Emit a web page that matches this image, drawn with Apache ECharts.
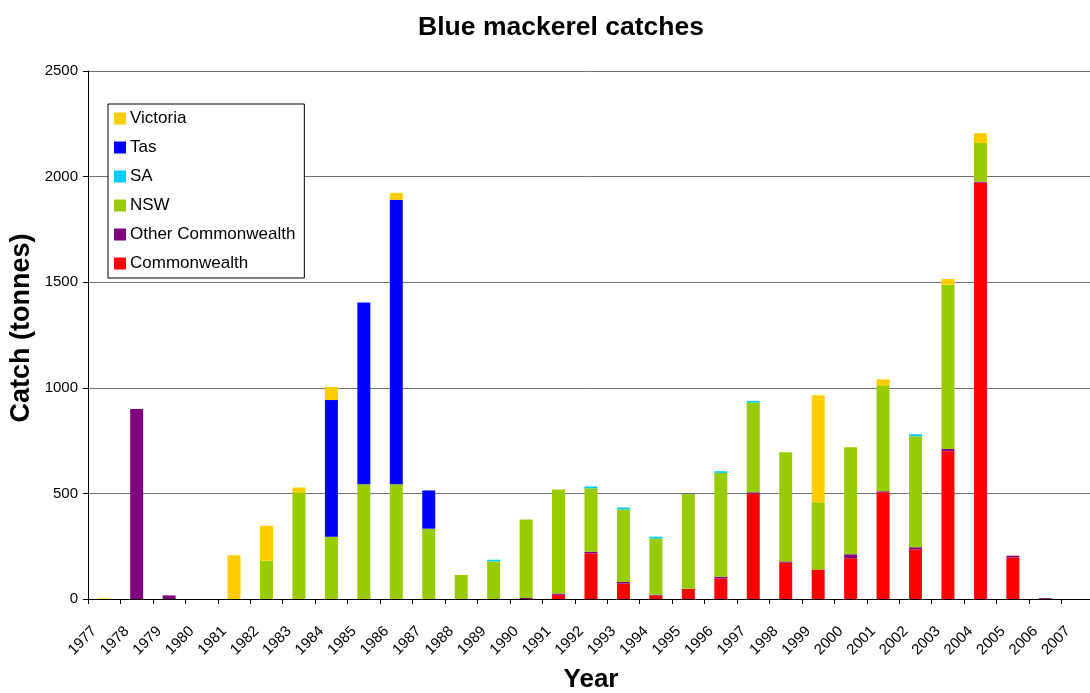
<!DOCTYPE html>
<html>
<head>
<meta charset="utf-8">
<script src="https://cdn.jsdelivr.net/npm/echarts@6/dist/echarts.min.js"></script>
<style>html,body{margin:0;padding:0;background:#fff;}#c{width:1090px;height:693px;}</style>
</head>
<body>
<div id="c"></div>
<script>
const years = ['1977','1978','1979','1980','1981','1982','1983','1984','1985','1986','1987','1988','1989','1990','1991','1992','1993','1994','1995','1996','1997','1998','1999','2000','2001','2002','2003','2004','2005','2006','2007'];
const commonwealth      = [0,0,0,0,0,0,0,0,0,0,0,0,0,0,20,216,73,16,48,97,500,172,140,193,505,235,700,1971,197,0,0];
const otherCommonwealth = [0,900,17,0,0,0,0,0,0,0,0,0,0,5,6,8,8,4,0,8,5,6,0,19,5,10,10,5,8,4,0];
const nsw               = [0,0,0,0,0,181,505,295,543,543,333,114,178,371,493,300,343,266,449,492,425,517,318,506,502,525,778,183,0,0,0];
const sa                = [0,0,0,0,0,0,0,0,0,0,0,0,8,0,0,9,9,9,0,8,8,0,0,0,0,10,0,0,0,0,0];
const tas               = [0,0,0,0,0,0,0,647,861,1347,181,0,0,0,0,0,0,0,0,0,0,0,0,0,0,0,0,0,0,0,0];
const victoria          = [3,0,0,0,207,166,23,62,0,33,0,0,0,0,0,0,0,0,0,0,0,0,507,0,28,0,27,47,0,0,0];
const yTicks = {min: 0, max: 2500, interval: 500};

const font = 'Liberation Sans, Arial, sans-serif';
const chart = echarts.init(document.getElementById('c'));
function s(name, data, color) {
  return {name: name, type: 'bar', stack: 'total', data: data, barWidth: 13,
          itemStyle: {color: color}, emphasis: {disabled: true}};
}
chart.setOption({
  animation: false,
  backgroundColor: '#fff',
  title: {
    text: 'Blue mackerel catches', left: 556, top: 9, textAlign: 'center',
    textStyle: {fontFamily: font, fontSize: 26.5, fontWeight: 'bold', color: '#000'}
  },
  legend: {
    orient: 'vertical', left: 108, top: 104,
    data: ['Victoria','Tas','SA','NSW','Other Commonwealth','Commonwealth'],
    itemWidth: 12, itemHeight: 12, itemGap: 12, icon: 'rect',
    padding: [6, 9, 6, 6],
    borderColor: '#000', borderWidth: 1, backgroundColor: '#fff',
    textStyle: {fontFamily: font, fontSize: 17, color: '#000', padding: [0,0,0,-1]},
    selectedMode: false
  },
  grid: {left: 88, top: 71, width: 1006, height: 528, outerBoundsMode: 'none', containLabel: false},
  xAxis: {
    type: 'category', data: years,
    name: 'Year', nameLocation: 'middle', nameGap: 68,
    nameTextStyle: {fontFamily: font, fontSize: 26, fontWeight: 'bold', color: '#000'},
    axisLine: {lineStyle: {color: '#000', width: 1}},
    axisTick: {show: true, length: 5, lineStyle: {color: '#000'}},
    axisLabel: {rotate: 45, interval: 0, margin: 20, padding: [0, 14, 0, 0],
                fontFamily: font, fontSize: 15, color: '#000'},
    splitLine: {show: false}
  },
  yAxis: {
    type: 'value', min: yTicks.min, max: yTicks.max, interval: yTicks.interval,
    axisLine: {show: true, lineStyle: {color: '#000', width: 1}},
    axisTick: {show: true, length: 5, lineStyle: {color: '#000'}},
    axisLabel: {margin: 10, fontFamily: font, fontSize: 15, color: '#000',
                formatter: function (v) { return String(v); }},
    splitLine: {show: true, lineStyle: {color: '#707070', width: 1}}
  },
  graphic: [{
    type: 'text', x: 22, y: 328, rotation: Math.PI / 2,
    style: {text: 'Catch (tonnes)', fontFamily: font, fontSize: 27, fontWeight: 'bold',
            fill: '#000', textAlign: 'center', textVerticalAlign: 'middle'}
  }],
  series: [
    s('Commonwealth', commonwealth, '#FF0000'),
    s('Other Commonwealth', otherCommonwealth, '#800080'),
    s('NSW', nsw, '#99CC00'),
    s('SA', sa, '#00CCFF'),
    s('Tas', tas, '#0000FF'),
    s('Victoria', victoria, '#FFCC00')
  ]
});
</script>
</body>
</html>
